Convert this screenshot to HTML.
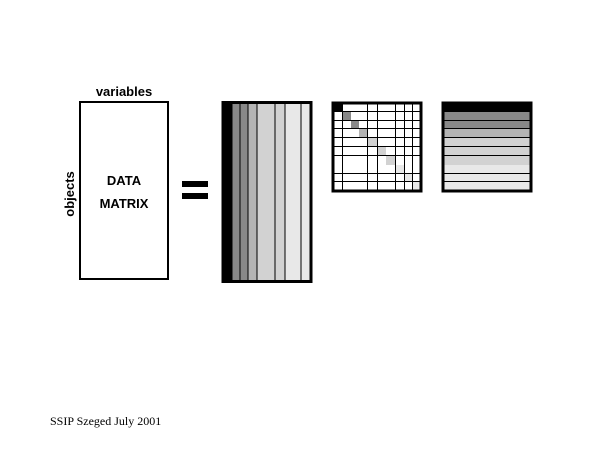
<!DOCTYPE html>
<html><head><style>
body{margin:0;width:600px;height:450px;background:#fff;position:relative;overflow:hidden;font-family:"Liberation Sans",sans-serif}
</style></head><body>
<svg width="600" height="450" style="position:absolute;left:0;top:0">
<rect x="80" y="102" width="88" height="177" fill="#fff" stroke="#000" stroke-width="2"/>
<g font-family="Liberation Sans, sans-serif" font-weight="bold" font-size="13" text-anchor="middle">
<text x="124" y="96">variables</text>
<text x="124" y="185">DATA</text>
<text x="124" y="208">MATRIX</text>
<text x="0" y="0" transform="translate(74,194) rotate(-90)">objects</text>
</g>
<rect x="182" y="181" width="26" height="6" fill="#000"/>
<rect x="182" y="193" width="26" height="6" fill="#000"/>
<g stroke="#000" stroke-width="1">
<rect x="223" y="102" width="9" height="179" fill="#000"/>
<rect x="232" y="102" width="8" height="179" fill="#888"/>
<rect x="240" y="102" width="8" height="179" fill="#888"/>
<rect x="248" y="102" width="9" height="179" fill="#b4b4b4"/>
<rect x="257" y="102" width="18" height="179" fill="#d2d2d2"/>
<rect x="275" y="102" width="10" height="179" fill="#d2d2d2"/>
<rect x="285" y="102" width="16" height="179" fill="#e8e8e8"/>
<rect x="301" y="102" width="10" height="179" fill="#e8e8e8"/>
</g>
<rect x="223" y="102.5" width="88" height="179" fill="none" stroke="#000" stroke-width="3"/>
<rect x="333" y="103" width="88" height="88" fill="#fff"/>
<rect x="333" y="103" width="10" height="8" fill="#000"/>
<rect x="343" y="111" width="8" height="9" fill="#888"/>
<rect x="351" y="120" width="8" height="8" fill="#888"/>
<rect x="359" y="128" width="9" height="9" fill="#b4b4b4"/>
<rect x="368" y="137" width="9" height="9" fill="#d2d2d2"/>
<rect x="377" y="146" width="9" height="9" fill="#d2d2d2"/>
<rect x="386" y="155" width="10" height="10" fill="#d2d2d2"/>
<rect x="396" y="165" width="9" height="9" fill="#e8e8e8"/>
<rect x="405" y="174" width="8" height="7" fill="#e8e8e8"/>
<rect x="413" y="181" width="8" height="9" fill="#e8e8e8"/>
<g stroke="#000" stroke-width="1">
<line x1="342.5" y1="102" x2="342.5" y2="191"/>
<line x1="367.5" y1="102" x2="367.5" y2="191"/>
<line x1="377.5" y1="102" x2="377.5" y2="191"/>
<line x1="395.5" y1="102" x2="395.5" y2="191"/>
<line x1="404.5" y1="102" x2="404.5" y2="191"/>
<line x1="412.5" y1="102" x2="412.5" y2="191"/>
<line x1="332" y1="111.5" x2="422" y2="111.5"/>
<line x1="332" y1="120.5" x2="422" y2="120.5"/>
<line x1="332" y1="128.5" x2="422" y2="128.5"/>
<line x1="332" y1="137.5" x2="422" y2="137.5"/>
<line x1="332" y1="146.5" x2="422" y2="146.5"/>
<line x1="332" y1="155.5" x2="422" y2="155.5"/>
<line x1="332" y1="173.5" x2="422" y2="173.5"/>
<line x1="332" y1="181.5" x2="422" y2="181.5"/>
</g>
<rect x="333" y="103" width="88" height="88" fill="none" stroke="#000" stroke-width="3"/>
<rect x="443" y="103" width="88" height="8" fill="#000"/>
<rect x="443" y="111" width="88" height="17" fill="#888"/>
<rect x="443" y="128" width="88" height="9" fill="#b4b4b4"/>
<rect x="443" y="137" width="88" height="28" fill="#d2d2d2"/>
<rect x="443" y="165" width="88" height="26" fill="#e8e8e8"/>
<g stroke="#000" stroke-width="1">
<line x1="442" y1="111.5" x2="532" y2="111.5"/>
<line x1="442" y1="120.5" x2="532" y2="120.5"/>
<line x1="442" y1="128.5" x2="532" y2="128.5"/>
<line x1="442" y1="137.5" x2="532" y2="137.5"/>
<line x1="442" y1="146.5" x2="532" y2="146.5"/>
<line x1="442" y1="155.5" x2="532" y2="155.5"/>
<line x1="442" y1="173.5" x2="532" y2="173.5"/>
<line x1="442" y1="181.5" x2="532" y2="181.5"/>
</g>
<rect x="443" y="103" width="88" height="88" fill="none" stroke="#000" stroke-width="3"/>
<text x="50" y="425" font-family="Liberation Serif, serif" font-size="12">SSIP Szeged July 2001</text>
</svg>
</body></html>
